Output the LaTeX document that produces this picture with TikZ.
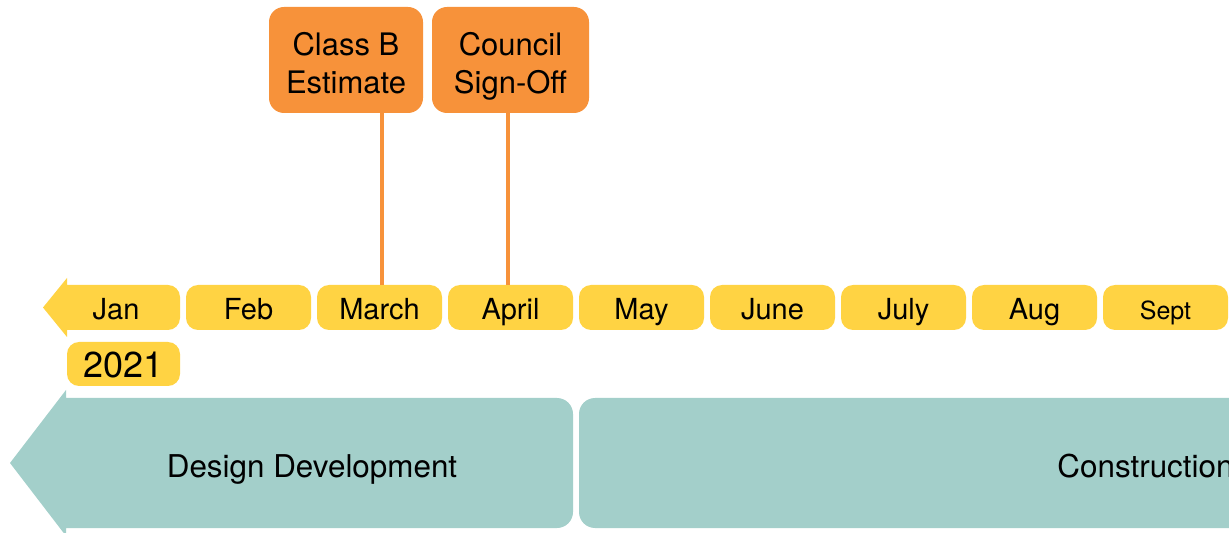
\documentclass[tikz,border=0pt]{standalone}
\usepackage{fontspec}
\setmainfont{TeX Gyre Heros}
\definecolor{pillyellow}{HTML}{FFD343}
\definecolor{mileorange}{HTML}{F7923A}
\definecolor{phaseteal}{HTML}{A3CFCA}

\begin{document}
\begin{tikzpicture}[x=0.5pt,y=-0.5pt,
  month/.style={fill=pillyellow, rounded corners=6pt, inner sep=0pt,
    minimum width=62.5pt, minimum height=22.5pt,
    text height=13pt, text depth=0.5pt, font=\fontsize{14.5}{16}\selectfont},
  milestone/.style={fill=mileorange, rounded corners=7.5pt, inner sep=0pt,
    minimum height=53pt, align=center, font=\fontsize{15.5}{19}\selectfont},
  phase/.style={inner sep=0pt, text height=11pt, text depth=0pt,
    font=\fontsize{15.7}{18}\selectfont},
  stem/.style={draw=mileorange, line width=2pt}]
\useasboundingbox (0,0) rectangle (1229,533);
\clip (0,0) rectangle (1229,533);

% phase bands
\fill[phaseteal] (300,398) [rounded corners=8pt] -- (573,398) -- (573,528) -- (300,528)
  [sharp corners] -- (66,528) -- (66,536) -- (10,463) -- (66,390) -- (66,398) -- cycle;
\fill[phaseteal] (900,398) [rounded corners=8pt] -- (579,398) -- (579,528) -- (900,528)
  [sharp corners] -- (1300,528) -- (1300,398) -- cycle;
\node[phase] (design) at (312,466) {Design Development};
\node[phase, anchor=west] (constr) at (1057,466) {Construction};

% months
\fill[pillyellow] (120,285) [rounded corners=6pt] -- (180,285) -- (180,330) -- (120,330)
  [sharp corners] -- (67,330) -- (67,337) -- (43,307.5) -- (67,278) -- (67,285) -- cycle;
\node[month, fill=none] (jan) at (116,307.5) {Jan};
\foreach \lab/\nm [count=\i from 1] in {Feb/feb,March/march,April/april,May/may,June/june,July/july,Aug/aug}
  \node[month] (\nm) at ({117.5+131*\i},307.5) {\lab};
\node[month, font=\fontsize{12.5}{15}\selectfont] (sept) at (1165.5,307.5) {Sept};

\node[month, minimum width=56.5pt, minimum height=22pt, text height=14pt, text depth=0pt,
  font=\fontsize{18}{20}\selectfont] (year) at (123.5,364) {2021};

% milestones
\node[milestone, minimum width=77pt] (classb) at (346,60)
  {\rule{0pt}{17.5pt}Class B\\Estimate\vphantom{g}};
\node[milestone, minimum width=78.5pt] (council) at (510.5,60)
  {\rule{0pt}{17.5pt}Council\\Sign-Off\vphantom{g}};
\draw[stem] ([xshift=1pt]march.north) -- ([xshift=1pt]march.north |- classb.south);
\draw[stem] ([xshift=-1.5pt]april.north) -- ([xshift=-1.5pt]april.north |- council.south);
\end{tikzpicture}
\end{document}
